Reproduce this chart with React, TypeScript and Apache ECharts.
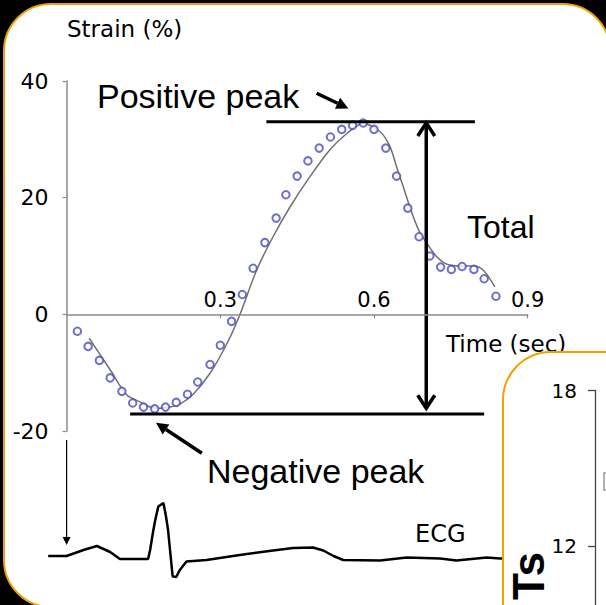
import React, { useEffect, useRef } from "react";
import * as echarts from "echarts";

// ---- data ----
const timeTicks = [0.3, 0.6, 0.9];
const strainTicks = [-20, 0, 20, 40];
const insetTicks = [12, 18];

const scatterTime = [0.021, 0.042, 0.064, 0.085, 0.108, 0.129, 0.15, 0.172, 0.193, 0.214, 0.236, 0.256, 0.28, 0.3, 0.322, 0.343, 0.364, 0.387, 0.409, 0.428, 0.45, 0.471, 0.493, 0.515, 0.537, 0.558, 0.579, 0.6, 0.623, 0.644, 0.666, 0.688, 0.709, 0.73, 0.751, 0.772, 0.795, 0.815, 0.838];
const scatterStrain = [-2.9, -5.5, -7.9, -10.9, -13.2, -15.2, -15.9, -16.2, -15.9, -15.1, -13.7, -11.6, -8.6, -5.3, -1.2, 3.4, 7.9, 12.3, 16.5, 20.5, 23.7, 26.3, 28.5, 30.4, 31.7, 32.4, 32.8, 31.7, 28.5, 23.7, 18.2, 13.3, 10.0, 8.1, 7.7, 8.2, 7.7, 6.1, 3.1];

const fitTime = [0.044, 0.085, 0.117, 0.143, 0.163, 0.182, 0.202, 0.221, 0.247, 0.28, 0.313, 0.338, 0.371, 0.403, 0.436, 0.475, 0.514, 0.547, 0.579, 0.612, 0.631, 0.644, 0.657, 0.67, 0.687, 0.703, 0.722, 0.742, 0.768, 0.794, 0.813, 0.836];
const fitStrain = [-4.1, -9.5, -13.8, -15.0, -15.9, -16.1, -15.9, -15.4, -13.7, -10.1, -5.0, -0.1, 7.6, 13.3, 18.4, 23.6, 28.2, 31.0, 32.7, 31.3, 28.8, 25.3, 21.9, 18.4, 14.5, 12.2, 9.9, 8.6, 8.3, 8.3, 7.6, 4.7];

const ecgTime = [-0.036, 0.0, 0.033, 0.059, 0.085, 0.104, 0.159, 0.163, 0.169, 0.173, 0.179, 0.189, 0.194, 0.198, 0.203, 0.207, 0.214, 0.221, 0.234, 0.273, 0.338, 0.403, 0.442, 0.481, 0.501, 0.521, 0.54, 0.612, 0.664, 0.729, 0.761, 0.82, 0.846, 0.92];
const ecgValue = [0, 0, 0.12, 0.2, 0.08, -0.06, -0.06, 0.12, 0.5, 0.72, 0.99, 1.06, 0.79, 0.52, 0.0, -0.41, -0.42, -0.28, -0.11, -0.08, 0.02, 0.11, 0.16, 0.17, 0.11, 0.0, -0.08, -0.09, -0.03, -0.05, -0.09, -0.03, -0.05, -0.04];

// annotation values (time, strain)
const positivePeak = 33.0;
const negativePeak = -17.1;
const positiveLineSpan = [0.39, 0.797];
const negativeLineSpan = [0.124, 0.815];
const totalArrowTime = 0.702;
const totalArrowRange = [32.8, -16.1];
const positivePointer = [[0.488, 37.9], [0.55, 35.3]];
const negativePointer = [[0.264, -23.8], [0.1745, -18.6]];
const ecgArrow = [[0, 2.32], [0, 0.22]];

const ORANGE = "#f4a100";

export default function App() {
  const ref = useRef<HTMLDivElement>(null);

  useEffect(() => {
    const el = ref.current as HTMLDivElement;
    const chart = echarts.init(el, null, { renderer: "svg" });
    const axisGray = "#8a8a8a";
    const gridBase = { containLabel: false, outerBoundsMode: "none" };

    const option: any = {
      animation: false,
      backgroundColor: "#000",
      grid: [
        { ...gridBase, left: 66.6, top: 81, width: 461.1, height: 350 },
        { ...gridBase, left: 41.0, top: 431, width: 512.3, height: 155 },
        { ...gridBase, left: 595, top: 390.5, width: 100, height: 466.5 },
        { ...gridBase, left: 66.6, top: 81, width: 461.1, height: 233.33 },
      ],
      xAxis: [
        { type: "value", gridIndex: 0, min: 0, max: 0.9, show: false },
        { type: "value", gridIndex: 1, min: -0.05, max: 0.95, show: false },
        { type: "value", gridIndex: 2, min: 0, max: 1, show: false },
        {
          type: "value",
          gridIndex: 3,
          min: 0,
          max: 0.9,
          interval: 0.3,
          position: "bottom",
          z: 10,
          axisLine: { show: true, onZero: false, lineStyle: { color: axisGray, width: 1.5 } },
          axisTick: { show: true, length: 4, lineStyle: { color: axisGray, width: 1.2 } },
          axisLabel: {
            show: true,
            inside: true,
            margin: 4,
            showMinLabel: false,
            showMaxLabel: true,
            color: "#000",
            fontSize: 21,
            fontFamily: "DejaVu Sans",
            formatter: (v: number) => (timeTicks.some((t) => Math.abs(t - v) < 1e-6) ? v.toFixed(1) : ""),
          },
          splitLine: { show: false },
        },
      ],
      yAxis: [
        {
          type: "value",
          gridIndex: 0,
          min: strainTicks[0],
          max: strainTicks[strainTicks.length - 1],
          interval: 20,
          z: 10,
          axisLine: { show: true, onZero: false, lineStyle: { color: axisGray, width: 1.5 } },
          axisTick: { show: true, length: 4, lineStyle: { color: axisGray, width: 1.2 } },
          axisLabel: {
            margin: 18,
            color: "#000",
            fontSize: 22,
            fontFamily: "DejaVu Sans",
            padding: [6, 0, 0, 0],
          },
          splitLine: { show: false },
        },
        { type: "value", gridIndex: 1, min: -0.6, max: 2.5, show: false },
        {
          type: "value",
          gridIndex: 2,
          min: 0,
          max: insetTicks[1],
          interval: insetTicks[1] - insetTicks[0],
          z: 60,
          axisLine: { show: true, onZero: false, lineStyle: { color: "#444", width: 1.3 } },
          axisTick: { show: true, length: 7, lineStyle: { color: "#444", width: 1.3 } },
          axisLabel: {
            margin: 18,
            color: "#000",
            fontSize: 20,
            fontFamily: "DejaVu Sans",
            formatter: (v: number) => (insetTicks.indexOf(v) >= 0 ? String(v) : ""),
          },
          splitLine: { show: false },
        },
        { type: "value", gridIndex: 3, min: 0, max: 40, show: false },
      ],
      series: [
        {
          type: "line",
          name: "fit",
          xAxisIndex: 0,
          yAxisIndex: 0,
          data: fitTime.map((t, i) => [t, fitStrain[i]]),
          smooth: 0.3,
          showSymbol: false,
          lineStyle: { color: "#707070", width: 1.5 },
          z: 3,
        },
        {
          type: "scatter",
          name: "strain",
          xAxisIndex: 0,
          yAxisIndex: 0,
          data: scatterTime.map((t, i) => [t, scatterStrain[i]]),
          symbol: "emptyCircle",
          symbolSize: 7.5,
          itemStyle: { color: "#4a4ac6", borderWidth: 1.5 },
          z: 4,
        },
        {
          type: "line",
          name: "ECG",
          xAxisIndex: 1,
          yAxisIndex: 1,
          data: ecgTime.map((t, i) => [t, ecgValue[i]]),
          showSymbol: false,
          lineStyle: { color: "#000", width: 2.5 },
          z: 3,
        },
      ],
    };
    chart.setOption(option);

    const P = (x: number, y: number) => chart.convertToPixel({ gridIndex: 0 } as any, [x, y]) as number[];
    const E = (x: number, y: number) => chart.convertToPixel({ gridIndex: 1 } as any, [x, y]) as number[];

    const headPts = (tip: number[], from: number[], len: number, half: number) => {
      const dx = tip[0] - from[0];
      const dy = tip[1] - from[1];
      const d = Math.hypot(dx, dy) || 1;
      const ux = dx / d;
      const uy = dy / d;
      const bx = tip[0] - ux * len;
      const by = tip[1] - uy * len;
      return {
        base: [bx, by],
        pts: [
          [bx - uy * half, by + ux * half],
          [tip[0], tip[1]],
          [bx + uy * half, by - ux * half],
        ],
      };
    };

    const elements: any[] = [];
    // main panel
    elements.push({
      type: "rect",
      z: -10,
      shape: { x: 4, y: 4, width: 606, height: 603, r: 47 },
      style: { fill: "#fff", stroke: ORANGE, lineWidth: 2 },
    });

    // peak lines
    const pl1 = P(positiveLineSpan[0], positivePeak);
    const pl2 = P(positiveLineSpan[1], positivePeak);
    elements.push({ type: "line", z: 5, shape: { x1: pl1[0], y1: pl1[1], x2: pl2[0], y2: pl2[1] }, style: { stroke: "#000", lineWidth: 3 } });
    const nl1 = P(negativeLineSpan[0], negativePeak);
    const nl2 = P(negativeLineSpan[1], negativePeak);
    elements.push({ type: "line", z: 5, shape: { x1: nl1[0], y1: nl1[1], x2: nl2[0], y2: nl2[1] }, style: { stroke: "#000", lineWidth: 3 } });

    // total double arrow
    const ta = P(totalArrowTime, totalArrowRange[0]);
    const tb = P(totalArrowTime, totalArrowRange[1]);
    elements.push({ type: "line", z: 5, shape: { x1: ta[0], y1: ta[1] + 2, x2: tb[0], y2: tb[1] - 2 }, style: { stroke: "#000", lineWidth: 3.5 } });
    const hTop = headPts(ta, tb, 13, 8.5);
    const hBot = headPts(tb, ta, 13, 8.5);
    elements.push({ type: "polyline", z: 5, shape: { points: hTop.pts }, style: { stroke: "#000", lineWidth: 3.5, fill: null, lineJoin: "miter" } });
    elements.push({ type: "polyline", z: 5, shape: { points: hBot.pts }, style: { stroke: "#000", lineWidth: 3.5, fill: null, lineJoin: "miter" } });

    // pointer arrows
    const addPointer = (a: number[], b: number[], width: number, len: number, half: number) => {
      const h = headPts(b, a, len, half);
      elements.push({ type: "line", z: 5, shape: { x1: a[0], y1: a[1], x2: h.base[0], y2: h.base[1] }, style: { stroke: "#000", lineWidth: width } });
      elements.push({ type: "polygon", z: 5, shape: { points: h.pts }, style: { fill: "#000" } });
    };
    addPointer(P(positivePointer[0][0], positivePointer[0][1]), P(positivePointer[1][0], positivePointer[1][1]), 3.5, 12, 6);
    addPointer(P(negativePointer[0][0], negativePointer[0][1]), P(negativePointer[1][0], negativePointer[1][1]), 3.5, 12, 6);
    addPointer(E(ecgArrow[0][0], ecgArrow[0][1]), E(ecgArrow[1][0], ecgArrow[1][1]), 1.2, 8, 4);

    // texts
    const txt = (text: string, x: number, y: number, size: number, family: string, extra: any = {}) => ({
      type: "text",
      z: 6,
      x,
      y,
      style: { text, fontSize: size, fontFamily: family, fill: "#000", align: "left", verticalAlign: "middle", ...extra },
    });
    elements.push(txt("Strain (%)", 67, 29, 23, "DejaVu Sans"));
    elements.push(txt("Positive peak", 97, 96, 34, "Liberation Sans"));
    elements.push(txt("Total", 467, 227, 32, "Liberation Sans"));
    elements.push(txt("Negative peak", 207, 470.5, 34, "Liberation Sans"));
    elements.push(txt("Time (sec)", 446, 344, 23, "DejaVu Sans"));
    elements.push(txt("ECG", 415, 533.5, 24, "DejaVu Sans"));

    // inset panel
    elements.push({
      type: "rect",
      z: 50,
      shape: { x: 503, y: 352, width: 200, height: 400, r: 48 },
      style: { fill: "#fff", stroke: ORANGE, lineWidth: 2 },
    });
    elements.push({
      type: "polyline",
      z: 60,
      shape: { points: [[612, 473], [604, 473], [604, 490], [612, 490]] },
      style: { stroke: "#999", lineWidth: 1.5, fill: null },
    });
    elements.push({
      type: "text",
      z: 60,
      x: 528,
      y: 552,
      rotation: Math.PI / 2,
      style: { text: "Ts", fontSize: 44, fontWeight: "bold", fontFamily: "Liberation Sans", fill: "#000", align: "right", verticalAlign: "middle" },
    });

    chart.setOption({ graphic: { elements } });

    return () => {
      chart.dispose();
    };
  }, []);

  return (
    <div
      ref={ref}
      style={{ position: "fixed", left: 0, top: 0, width: 606, height: 605, background: "#000" }}
    />
  );
}
